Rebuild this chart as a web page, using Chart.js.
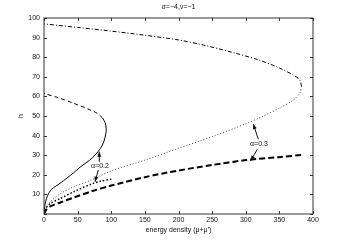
<!DOCTYPE html>
<html>
<head>
<meta charset="utf-8">
<script src="https://cdn.jsdelivr.net/npm/chart.js@4/dist/chart.umd.min.js"></script>
<style>
html, body { margin: 0; padding: 0; background: #fff; }
#wrap { width: 346px; height: 241px; }
</style>
</head>
<body>
<div id="wrap"><canvas id="myChart" width="346" height="241"></canvas></div>
<script>
// axis ticks
var xTickValues = [0, 50, 100, 150, 200, 250, 300, 350, 400];
var yTickValues = [0, 10, 20, 30, 40, 50, 60, 70, 80, 90, 100];
var titleText = '\u03c3=\u22124,\u03bd=\u22121';

// alpha = 0.2, lower branch (solid)
var a02LowE = [0, 0.8, 2.5, 5.5, 11, 24, 44, 54, 68, 77, 84, 89, 92, 92.5, 91, 87];
var a02LowH = [0, 3, 6.5, 9.5, 12.5, 15.7, 21, 24, 27.5, 30.5, 33.5, 37, 41, 43.5, 46.5, 49];
// alpha = 0.2, upper branch (dashed)
var a02UpE = [87, 80, 68, 44, 24, 0];
var a02UpH = [49, 51.2, 53.2, 56.5, 59, 61.5];
// alpha = 0.2, second solution (thick dots)
var a02DotE = [0, 3, 10, 25, 45, 73, 85, 101];
var a02DotH = [0, 3, 5.5, 8, 11.5, 15.6, 16.8, 17.8];

// alpha = 0.3, lower branch (dotted)
var a03LowE = [0, 2, 5, 10, 25, 45, 70, 100, 150, 200, 250, 300, 320, 350, 370, 380, 383];
var a03LowH = [0, 2, 4.5, 6.5, 10.5, 14, 17.3, 22, 27.5, 33.5, 39.5, 46, 49, 54, 58, 61.5, 65];
// alpha = 0.3, upper branch (dash-dot)
var a03UpE = [383, 380, 370, 350, 320, 285, 237, 200, 150, 100, 50, 0];
var a03UpH = [65, 68.5, 71, 74.5, 78.5, 82, 86.2, 88.8, 91.2, 93.3, 95.2, 97];
// alpha = 0.3, second solution (thick dashed)
var a03DashE = [0, 3, 10, 25, 45, 70, 100, 150, 200, 250, 300, 350, 385];
var a03DashH = [0, 2, 4, 6, 8.5, 11.5, 14.5, 18.8, 22.2, 25, 27.5, 29, 30.2];

// annotations: label position and arrows (tail -> head) in data units
var notes = [
  { text: '\u03b1=0.2', x: 83.3, y: 24.5,
    arrows: [[82.2, 26.6, 82.2, 31.8], [80.8, 22.4, 75.8, 16.5]] },
  { text: '\u03b1=0.3', x: 319.7, y: 35.6,
    arrows: [[318.7, 38.1, 311.2, 45.9], [317.2, 33, 307.3, 27.2]] }
];

var FONT = '"Liberation Sans", Arial, sans-serif';

function pts(xs, ys) {
  return xs.map(function (x, i) { return { x: x, y: ys[i] }; });
}

function line(xs, ys, width, dash, color) {
  return {
    data: pts(xs, ys),
    showLine: true,
    borderColor: color || '#000',
    borderWidth: width,
    borderDash: dash,
    pointRadius: 0,
    tension: 0.3,
    fill: false
  };
}

var frame = {
  id: 'frame',
  afterDraw: function (chart) {
    var c = chart.ctx, a = chart.chartArea;
    var xs = chart.scales.x, ys = chart.scales.y;
    c.save();
    c.strokeStyle = '#333';
    c.lineWidth = 1;
    c.strokeRect(a.left, a.top, a.right - a.left, a.bottom - a.top);
    c.beginPath();
    xTickValues.forEach(function (v) {
      var px = Math.round(xs.getPixelForValue(v)) + 0.5;
      c.moveTo(px, a.bottom); c.lineTo(px, a.bottom - 3);
      c.moveTo(px, a.top); c.lineTo(px, a.top + 3);
    });
    yTickValues.forEach(function (v) {
      var py = Math.round(ys.getPixelForValue(v)) + 0.5;
      c.moveTo(a.left, py); c.lineTo(a.left + 3, py);
      c.moveTo(a.right, py); c.lineTo(a.right - 3, py);
    });
    c.stroke();

    c.fillStyle = '#111';
    c.strokeStyle = '#111';
    c.font = '7px ' + FONT;
    c.textAlign = 'center';
    c.textBaseline = 'middle';
    c.fillText(titleText, (a.left + a.right) / 2, 7);
    notes.forEach(function (n) {
      c.fillText(n.text, xs.getPixelForValue(n.x), ys.getPixelForValue(n.y));
      n.arrows.forEach(function (ar) {
        var x0 = xs.getPixelForValue(ar[0]), y0 = ys.getPixelForValue(ar[1]);
        var x1 = xs.getPixelForValue(ar[2]), y1 = ys.getPixelForValue(ar[3]);
        var ang = Math.atan2(y1 - y0, x1 - x0);
        c.beginPath();
        c.moveTo(x0, y0); c.lineTo(x1, y1);
        c.stroke();
        c.beginPath();
        c.moveTo(x1, y1);
        c.lineTo(x1 - 5 * Math.cos(ang) + 2 * Math.sin(ang), y1 - 5 * Math.sin(ang) - 2 * Math.cos(ang));
        c.lineTo(x1 - 5 * Math.cos(ang) - 2 * Math.sin(ang), y1 - 5 * Math.sin(ang) + 2 * Math.cos(ang));
        c.closePath();
        c.fill();
      });
    });
    c.restore();
  }
};

var ctx = document.getElementById('myChart').getContext('2d');
var chart = new Chart(ctx, {
  type: 'scatter',
  data: {
    datasets: [
      line(a03DashE, a03DashH, 2, [6, 3]),
      line(a02DotE, a02DotH, 1.5, [1.5, 2]),
      line(a03LowE, a03LowH, 1, [1, 2], '#444'),
      line(a03UpE, a03UpH, 1, [4, 2, 1, 2]),
      line(a02UpE, a02UpH, 1, [4, 3]),
      line(a02LowE, a02LowH, 1, [])
    ]
  },
  options: {
    responsive: false,
    animation: false,
    devicePixelRatio: 1,
    layout: { padding: { left: 0, right: 33, top: 18, bottom: 0 } },
    plugins: {
      legend: { display: false },
      tooltip: { enabled: false }
    },
    scales: {
      x: {
        type: 'linear',
        min: 0,
        max: 400,
        afterBuildTicks: function (s) { s.ticks = xTickValues.map(function (v) { return { value: v }; }); },
        afterFit: function (s) { s.height = 27; },
        grid: { display: false, drawTicks: false },
        border: { display: false },
        ticks: {
          color: '#111',
          padding: 2,
          maxRotation: 0,
          font: { family: FONT, size: 7 }
        },
        title: {
          display: true,
          text: 'energy density (\u03bc+\u03bc\u2032)',
          color: '#111',
          font: { family: FONT, size: 7 },
          padding: { top: 0, bottom: 6.8 }
        }
      },
      y: {
        type: 'linear',
        min: 0,
        max: 100,
        afterBuildTicks: function (s) { s.ticks = yTickValues.map(function (v) { return { value: v }; }); },
        afterFit: function (s) { s.width = 44; },
        grid: { display: false, drawTicks: false },
        border: { display: false },
        ticks: {
          color: '#111',
          padding: 4,
          font: { family: FONT, size: 7 },
          callback: function (v) { return v === 0 ? '' : v; }
        },
        title: {
          display: true,
          text: 'h',
          color: '#111',
          font: { family: FONT, size: 7 },
          padding: { top: 17, bottom: 0 }
        }
      }
    }
  },
  plugins: [frame]
});
</script>
</body>
</html>
